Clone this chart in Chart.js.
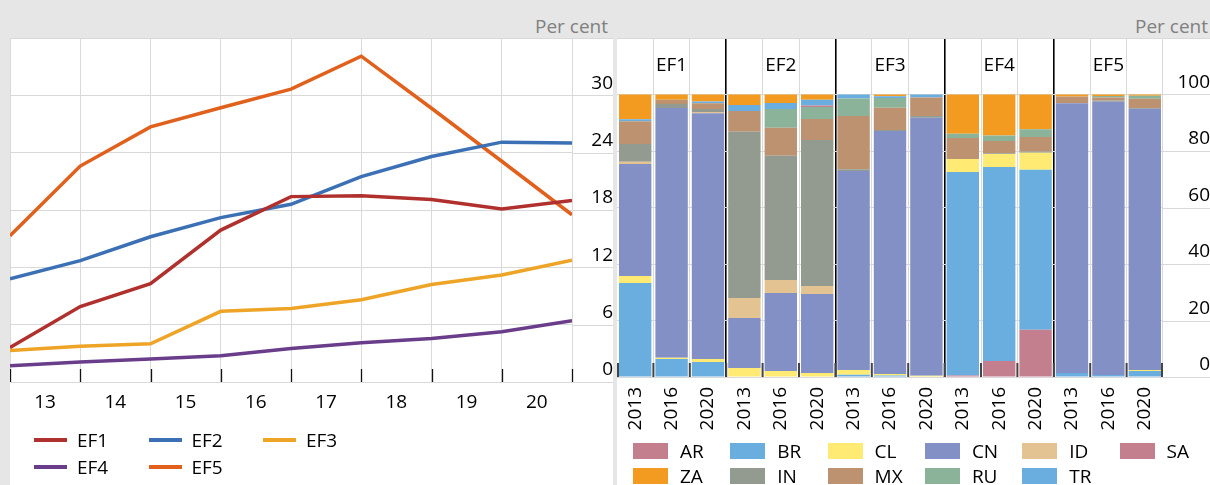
<!DOCTYPE html>
<html><head><meta charset="utf-8">
<script src="https://cdn.jsdelivr.net/npm/chart.js@4.4.1/dist/chart.umd.min.js"></script>
<style>
html,body{margin:0;padding:0;}
body{width:1210px;height:485px;background:#e6e6e6;position:relative;overflow:hidden;font-family:"Open Sans",sans-serif;}
.panel{position:absolute;background:#fff;}
#pl{left:10px;top:38px;width:603px;height:447px;}
#pr{left:617px;top:38px;width:593px;height:447px;overflow:hidden;}
canvas{position:absolute;left:0;top:0;}
.unit{position:absolute;top:13px;font-size:19px;line-height:26px;color:#808080;}
.lg{position:absolute;font-size:19px;line-height:26px;color:#000;white-space:nowrap;}
.lg .sw{position:absolute;}
</style></head>
<body>
<div class="unit" style="right:602px">Per cent</div>
<div class="unit" style="right:2px">Per cent</div>
<div class="panel" id="pl"><canvas id="cl" width="603" height="447"></canvas></div>
<div class="panel" id="pr"><canvas id="cr" width="593" height="447"></canvas></div>
<script>
// ---------- Left panel data ----------
const lineX = [12.5, 13.5, 14.5, 15.5, 16.5, 17.5, 18.5, 19.5, 20.5];
const xTickLabels = ['13', '14', '15', '16', '17', '18', '19', '20'];
const lineNames = ['EF1', 'EF2', 'EF3', 'EF4', 'EF5'];
const ef1 = [3.6, 7.9, 10.3, 15.9, 19.4, 19.5, 19.1, 18.1, 19.0];
const ef2 = [10.8, 12.7, 15.2, 17.2, 18.6, 21.5, 23.6, 25.1, 25.0];
const ef3 = [3.3, 3.75, 4.0, 7.4, 7.7, 8.6, 10.2, 11.2, 12.75];
const ef4 = [1.7, 2.1, 2.4, 2.75, 3.5, 4.1, 4.55, 5.25, 6.4];
const ef5 = [15.3, 22.6, 26.7, 28.7, 30.65, 34.1, 28.65, 23.1, 17.5];
const leftYTicks = [0, 6, 12, 18, 24, 30, 36];

// ---------- Right panel data ----------
const barLabels = ['2013','2016','2020','2013','2016','2020','2013','2016','2020','2013','2016','2020','2013','2016','2020'];
const groupLabels = ['EF1', 'EF2', 'EF3', 'EF4', 'EF5'];
const AR = [0,0,0, 0,0,0, 0,0,0, 0.5,5.7,16.7, 0,0,0];
const BR = [33.3,6.4,5.3, 0,0,0, 0.8,0.5,0, 72.1,68.6,56.7, 1.4,0.7,2.1];
const CL = [2.45,0.4,1.1, 3.2,2.1,1.4, 1.7,0.6,0.4, 4.6,4.6,6.0, 0,0,0.4];
const CN = [39.65,88.4,87.0, 17.7,27.6,28.0, 70.4,86.0,91.4, 0,0,0, 95.5,96.7,92.5];
const ID = [0.8,0,0.4, 7.1,4.6,2.8, 0,0,0, 0,0,0, 0,0,0];
const IN = [6.3,1.4,1.1, 58.8,44.0,51.7, 0.6,0.3,0.6, 0,0.3,0.4, 0,0.5,0.2];
const MX = [8.0,1.5,2.0, 7.4,9.9,7.4, 18.9,7.9,6.5, 7.4,4.3,5.2, 2.4,1.0,3.3];
const RU = [0,0,0, 0,6.7,4.3, 6.2,3.5,0, 1.5,2.0,2.7, 0,0.6,1.1];
const SA = [0,0,0, 0,0,0.5, 0,0,0, 0,0,0, 0,0,0];
const TR = [0.7,0,0.6, 2.1,2.1,2.0, 1.4,0.6,1.1, 0,0,0, 0,0,0];
const ZA = [8.8,1.9,2.5, 3.7,3.0,1.9, 0,0.6,0, 13.9,14.5,12.3, 0.7,0.5,0.4];
const stackNames = ['AR','BR','CL','CN','ID','IN','MX','RU','SA','TR','ZA'];
const stackValues = [AR, BR, CL, CN, ID, IN, MX, RU, SA, TR, ZA];
const legendOrder = ['AR','BR','CL','CN','ID','SA','ZA','IN','MX','RU','TR'];
const rightYTicks = [0, 20, 40, 60, 80, 100, 120];

// ---------- Styles ----------
const lineColors = ['#b0302e', '#3b70b5', '#eea427', '#6a3d8b', '#e0601c'];
const barColors = {AR:'#c47f8f', BR:'#6aaee0', CL:'#ffeb73', CN:'#8390c6', ID:'#e2c391',
  IN:'#939a8f', MX:'#bd9270', RU:'#8bb39a', SA:'#c47f8f', TR:'#6aaee0', ZA:'#f39b21'};
const GRID = '#d9d9d9';

Chart.defaults.font.family = '"Open Sans", sans-serif';
Chart.defaults.font.size = 19;
Chart.defaults.color = '#000';
Chart.defaults.animation = false;

const extendYGrid = {
  id: 'extendYGrid',
  afterDraw(chart) {
    const ctx = chart.ctx, y = chart.scales.y, a = chart.chartArea;
    ctx.save(); ctx.strokeStyle = GRID; ctx.lineWidth = 1;
    y.ticks.forEach((t, i) => {
      const py = Math.round(y.getPixelForTick(i)) + 0.5;
      ctx.beginPath(); ctx.moveTo(a.right, py); ctx.lineTo(chart.width, py); ctx.stroke();
    });
    ctx.restore();
  }
};

const leftTicks = {
  id: 'leftTicks',
  afterDraw(chart) {
    const ctx = chart.ctx, x = chart.scales.x, a = chart.chartArea;
    ctx.save(); ctx.strokeStyle = '#111'; ctx.lineWidth = 1.3;
    x.ticks.forEach((t, i) => {
      const px = Math.round(x.getPixelForTick(i)) + 0.5;
      ctx.beginPath(); ctx.moveTo(px, a.bottom - 13); ctx.lineTo(px, a.bottom); ctx.stroke();
    });
    ctx.restore();
  }
};

const rightDecor = {
  id: 'rightDecor',
  afterDraw(chart) {
    const ctx = chart.ctx, x = chart.scales.x, a = chart.chartArea;
    ctx.save();
    ctx.strokeStyle = '#444'; ctx.lineWidth = 2;
    const n = barLabels.length;
    for (let i = 0; i <= n; i++) {
      let px;
      if (i === 0) px = a.left + 1; else if (i === n) px = a.right - 1;
      else px = (x.getPixelForValue(i - 1) + x.getPixelForValue(i)) / 2;
      ctx.beginPath(); ctx.moveTo(px, a.bottom - 14); ctx.lineTo(px, a.bottom); ctx.stroke();
    }
    ctx.fillStyle = '#000'; ctx.textAlign = 'center'; ctx.textBaseline = 'middle';
    ctx.font = '19px "Open Sans", sans-serif';
    groupLabels.forEach((g, k) => {
      ctx.fillText(g, x.getPixelForValue(k * 3 + 1), a.top + 28);
    });
    ctx.restore();
  }
};

const zeroPad = (s) => { s.paddingLeft = 0; s.paddingRight = 0; s.paddingTop = 0; s.paddingBottom = 0; };

// ---------- Left chart ----------
const lineSeries = [ef1, ef2, ef3, ef4, ef5];
const leftChart = new Chart(document.getElementById('cl'), {
  type: 'line',
  data: {
    datasets: lineSeries.map((s, k) => ({
      label: lineNames[k],
      data: s.map((v, i) => ({x: lineX[i], y: v})),
      borderColor: lineColors[k], backgroundColor: lineColors[k],
      borderWidth: 3.5, pointRadius: 0, tension: 0, fill: false
    }))
  },
  options: {
    responsive: false, devicePixelRatio: 1, events: [],
    layout: {padding: {left: 0, right: 0, top: 0, bottom: 53}},
    plugins: {legend: {display: false}, tooltip: {enabled: false}},
    scales: {
      x: {
        type: 'linear', min: lineX[0], max: lineX[lineX.length - 1],
        afterBuildTicks: (s) => { s.ticks = lineX.map(v => ({value: v})); },
        afterFit: (s) => { s.height = 50; zeroPad(s); },
        ticks: {autoSkip: false, maxRotation: 0, labelOffset: 35, padding: 9,
          callback: (v, i) => (i < xTickLabels.length ? xTickLabels[i] : '')},
        grid: {color: GRID, drawTicks: false},
        border: {color: GRID}
      },
      y: {
        position: 'right', min: 0, max: 36,
        afterBuildTicks: (s) => { s.ticks = leftYTicks.map(v => ({value: v})); },
        afterFit: (s) => { s.width = 41; zeroPad(s); },
        ticks: {labelOffset: -12, crossAlign: 'far', padding: 12,
          callback: (v) => (v === 36 ? '' : String(v))},
        grid: {color: GRID, drawTicks: false},
        border: {display: false}
      }
    }
  },
  plugins: [extendYGrid, leftTicks]
});

// ---------- Right chart ----------
const rightChart = new Chart(document.getElementById('cr'), {
  type: 'bar',
  data: {
    labels: barLabels,
    datasets: stackNames.map((n, k) => ({
      label: n, data: stackValues[k], backgroundColor: barColors[n],
      borderWidth: 0, barPercentage: 0.89, categoryPercentage: 1.0
    }))
  },
  options: {
    responsive: false, devicePixelRatio: 1, events: [],
    layout: {padding: {left: 0, right: 0, top: 0, bottom: 48}},
    plugins: {legend: {display: false}, tooltip: {enabled: false}},
    scales: {
      x: {
        stacked: true,
        afterFit: (s) => { s.height = 60; zeroPad(s); },
        ticks: {autoSkip: false, minRotation: 90, maxRotation: 90, padding: 10},
        grid: {offset: true, drawTicks: false,
          color: (c) => (c.index > 0 && c.index < barLabels.length && c.index % 3 === 0 ? '#000' : GRID),
          lineWidth: (c) => (c.index > 0 && c.index < barLabels.length && c.index % 3 === 0 ? 1.6 : 1)},
        border: {color: GRID}
      },
      y: {
        stacked: true, position: 'right', min: 0, max: 120,
        afterBuildTicks: (s) => { s.ticks = rightYTicks.map(v => ({value: v})); },
        afterFit: (s) => { s.width = 47; zeroPad(s); },
        ticks: {labelOffset: -12, crossAlign: 'far', padding: 4,
          callback: (v) => (v === 120 ? '' : String(v))},
        grid: {color: GRID, drawTicks: false},
        border: {display: false}
      }
    }
  },
  plugins: [extendYGrid, rightDecor]
});

// ---------- HTML legends built from the datasets ----------
(function () {
  const pl = document.getElementById('pl');
  leftChart.data.datasets.forEach((ds, i) => {
    const col = i % 3, row = Math.floor(i / 3);
    const d = document.createElement('div');
    d.className = 'lg';
    d.style.left = (24 + 114.5 * col) + 'px';
    d.style.top = (402 - 13 + 27 * row) + 'px';
    d.style.paddingLeft = '43px';
    const sw = document.createElement('span');
    sw.className = 'sw';
    sw.style.cssText = 'left:0;top:11px;width:33px;height:4px;background:' + ds.borderColor;
    d.appendChild(sw);
    d.appendChild(document.createTextNode(ds.label));
    pl.appendChild(d);
  });
  const pr = document.getElementById('pr');
  legendOrder.forEach((name, i) => {
    const ds = rightChart.data.datasets.find(x => x.label === name);
    const col = i % 6, row = Math.floor(i / 6);
    const d = document.createElement('div');
    d.className = 'lg';
    d.style.left = (16 + 97.3 * col) + 'px';
    d.style.top = (412.5 - 13 + 25.5 * row) + 'px';
    d.style.paddingLeft = '47px';
    const sw = document.createElement('span');
    sw.className = 'sw';
    sw.style.cssText = 'left:0;top:5px;width:35px;height:16px;background:' + ds.backgroundColor;
    d.appendChild(sw);
    d.appendChild(document.createTextNode(ds.label));
    pr.appendChild(d);
  });
})();
</script>
</body></html>
